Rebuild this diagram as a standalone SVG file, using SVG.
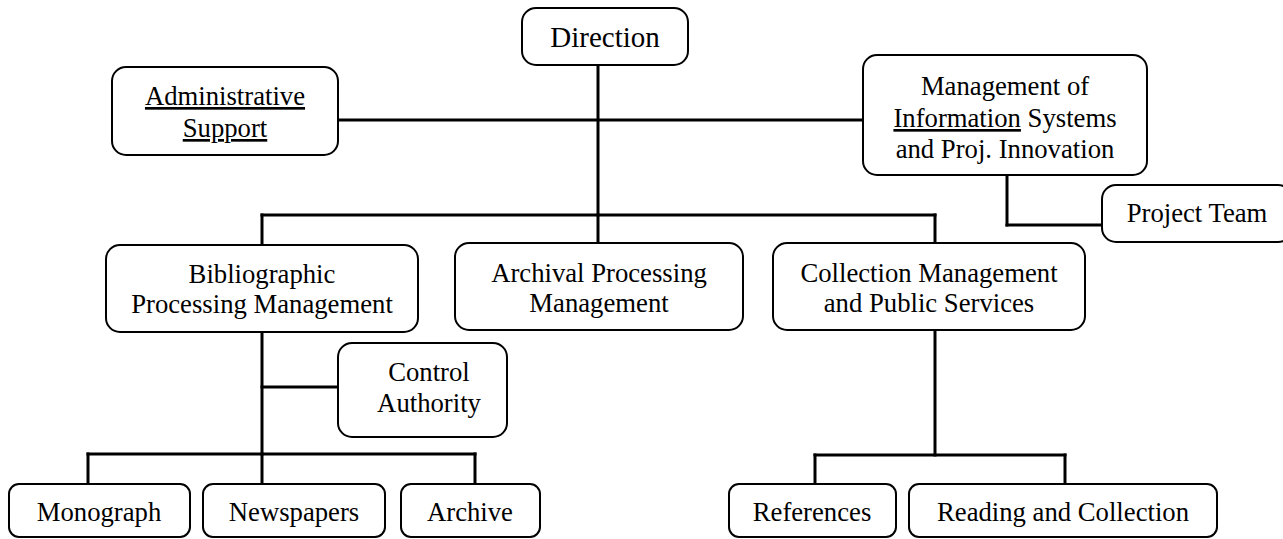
<svg xmlns="http://www.w3.org/2000/svg" width="1283" height="539" viewBox="0 0 1283 539">
<style>
.box{fill:#fff;stroke:#000;stroke-width:2}
.t{font-family:"Liberation Serif","Times New Roman",serif;font-size:26.7px;fill:#000;text-anchor:middle}
.big{font-size:29px}
.u{text-decoration:underline}
#connectors line{stroke:#000;stroke-width:3;stroke-linecap:square}
</style>
<rect width="1283" height="539" fill="#fff"/>
<g id="connectors">
<line x1="598" y1="65" x2="598" y2="215"/>
<line x1="338" y1="120" x2="863" y2="120"/>
<line x1="262" y1="215" x2="935" y2="215"/>
<line x1="262" y1="215" x2="262" y2="245"/>
<line x1="598" y1="215" x2="598" y2="243"/>
<line x1="935" y1="215" x2="935" y2="243"/>
<line x1="1007" y1="175" x2="1007" y2="225"/>
<line x1="1007" y1="225" x2="1102" y2="225"/>
<line x1="262" y1="332" x2="262" y2="454"/>
<line x1="262" y1="387" x2="338" y2="387"/>
<line x1="88" y1="454" x2="475" y2="454"/>
<line x1="88" y1="454" x2="88" y2="484"/>
<line x1="262" y1="454" x2="262" y2="484"/>
<line x1="475" y1="454" x2="475" y2="484"/>
<line x1="935" y1="330" x2="935" y2="455"/>
<line x1="815" y1="455" x2="1065" y2="455"/>
<line x1="815" y1="455" x2="815" y2="484"/>
<line x1="1065" y1="455" x2="1065" y2="484"/>
</g>
<g id="direction">
<rect class="box" x="522" y="8" width="166" height="57" rx="14"/>
<text class="t big" x="605" y="47">Direction</text>
</g>
<g id="admin-support">
<rect class="box" x="112" y="67" width="226" height="88" rx="14"/>
<text class="t" x="225" y="105"><tspan class="u">Administrative</tspan></text>
<text class="t" x="225" y="137"><tspan class="u">Support</tspan></text>
</g>
<g id="info-systems">
<rect class="box" x="863" y="55" width="284" height="120" rx="14"/>
<text class="t" x="1005" y="95">Management of</text>
<text class="t" x="1005" y="127"><tspan class="u">Information</tspan> Systems</text>
<text class="t" x="1005" y="158">and Proj. Innovation</text>
</g>
<g id="project-team">
<rect class="box" x="1102" y="185" width="190" height="57" rx="14"/>
<text class="t" x="1197" y="222">Project Team</text>
</g>
<g id="bibliographic">
<rect class="box" x="106" y="245" width="312" height="87" rx="14"/>
<text class="t" x="262" y="283">Bibliographic</text>
<text class="t" x="262" y="313">Processing Management</text>
</g>
<g id="archival">
<rect class="box" x="455" y="243" width="288" height="87" rx="14"/>
<text class="t" x="599" y="282">Archival Processing</text>
<text class="t" x="599" y="312">Management</text>
</g>
<g id="collection">
<rect class="box" x="773" y="243" width="312" height="87" rx="14"/>
<text class="t" x="929" y="282">Collection Management</text>
<text class="t" x="929" y="312">and Public Services</text>
</g>
<g id="control-authority">
<rect class="box" x="338" y="343" width="169" height="94" rx="14"/>
<text class="t" x="429" y="381">Control</text>
<text class="t" x="429" y="412">Authority</text>
</g>
<g id="monograph">
<rect class="box" x="9" y="484" width="181" height="53" rx="10"/>
<text class="t" x="99" y="521">Monograph</text>
</g>
<g id="newspapers">
<rect class="box" x="203" y="484" width="182" height="53" rx="10"/>
<text class="t" x="294" y="521">Newspapers</text>
</g>
<g id="archive">
<rect class="box" x="401" y="484" width="139" height="53" rx="10"/>
<text class="t" x="470" y="521">Archive</text>
</g>
<g id="references">
<rect class="box" x="729" y="484" width="167" height="53" rx="10"/>
<text class="t" x="812" y="521">References</text>
</g>
<g id="reading">
<rect class="box" x="909" y="484" width="308" height="53" rx="10"/>
<text class="t" x="1063" y="521">Reading and Collection</text>
</g>
</svg>
